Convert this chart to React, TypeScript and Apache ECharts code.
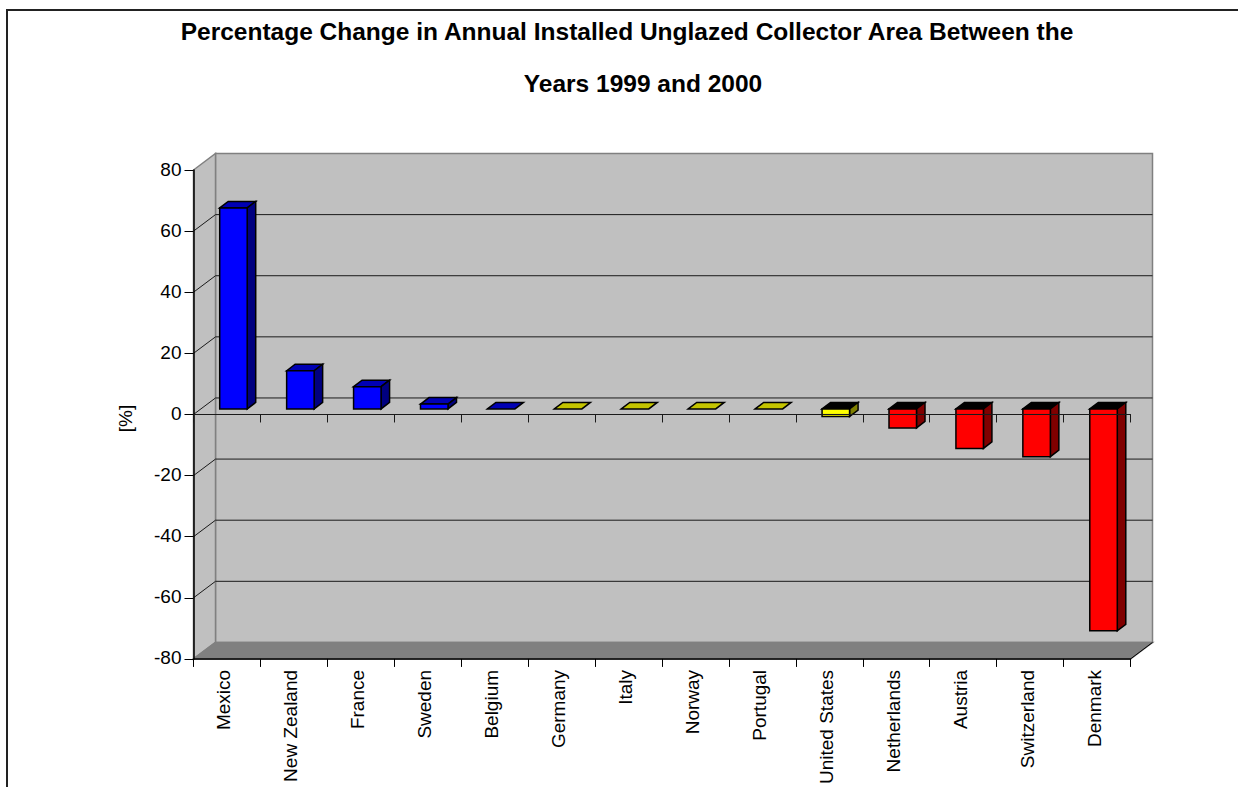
import React, { useEffect, useRef } from "react";
import * as echarts from "echarts";

const titleLine1 = "Percentage Change in Annual Installed Unglazed Collector Area Between the";
const titleLine2 = "Years 1999 and 2000";
const categories = ["Mexico", "New Zealand", "France", "Sweden", "Belgium", "Germany", "Italy", "Norway", "Portugal", "United States", "Netherlands", "Austria", "Switzerland", "Denmark"];
const changes = [65.8, 12.5, 7.3, 1.6, 0, 0, 0, 0, 0, -2.5, -6.2, -12.9, -15.6, -72.6];
const groups = ["gain", "gain", "gain", "gain", "gain", "flat", "flat", "flat", "flat", "flat", "loss", "loss", "loss", "loss"];
const gridValues = [-60, -40, -20, 0, 20, 40, 60];

const palette: Record<string, { front: string; side: string; top: string }> = {
  gain: { front: "#0000FF", side: "#000080", top: "#0000B4" },
  flat: { front: "#FFFF00", side: "#808000", top: "#C4C400" },
  loss: { front: "#FF0000", side: "#800000", top: "#000000" },
};

const FONT = "Liberation Sans";
const WALL_DX = 22, WALL_DY = 16.5;
const BAR_SHIFT_X = 7, BAR_SHIFT_Y = 5.5, BAR_DX = 8.5, BAR_DY = 6.5;

function renderWalls(params: any) {
  const c = params.coordSys;
  const l = c.x, r = c.x + c.width, t = c.y, b = c.y + c.height;
  const edge = { stroke: "#808080", lineWidth: 1.5 };
  return {
    type: "group",
    children: [
      { type: "polygon", shape: { points: [[l + WALL_DX, t - WALL_DY], [r + WALL_DX, t - WALL_DY], [r + WALL_DX, b - WALL_DY], [l + WALL_DX, b - WALL_DY]] }, style: { fill: "#C0C0C0", ...edge } },
      { type: "polygon", shape: { points: [[l, t], [l + WALL_DX, t - WALL_DY], [l + WALL_DX, b - WALL_DY], [l, b]] }, style: { fill: "#C0C0C0", ...edge } },
      { type: "polygon", shape: { points: [[l, b], [l + WALL_DX, b - WALL_DY], [r + WALL_DX, b - WALL_DY], [r, b]] }, style: { fill: "#808080", ...edge } },
      { type: "line", shape: { x1: r, y1: b, x2: r + WALL_DX, y2: b - WALL_DY }, style: { stroke: "#000", lineWidth: 1 } },
    ],
  };
}

function renderGrid(params: any, api: any) {
  const c = params.coordSys;
  const y = api.coord([0, api.value(0)])[1];
  return {
    type: "polyline",
    shape: { points: [[c.x, y], [c.x + WALL_DX, y - WALL_DY], [c.x + c.width + WALL_DX, y - WALL_DY]] },
    style: { fill: "none", stroke: "#1a1a1a", lineWidth: 1 },
  };
}

function renderBar(params: any, api: any) {
  const idx = api.value(0), v = api.value(1);
  const zeroPoint = api.coord([idx, 0]);
  const cx = zeroPoint[0] + BAR_SHIFT_X - 0.5;
  const y0 = zeroPoint[1] - BAR_SHIFT_Y;
  const yv = api.coord([idx, v])[1] - BAR_SHIFT_Y;
  const half = 13.75;
  const l = cx - half, r = cx + half;
  const top = Math.min(y0, yv), bottom = Math.max(y0, yv);
  const p = palette[groups[params.dataIndex]];
  const s = { stroke: "#000", lineWidth: 1.5, lineJoin: "miter" };
  const topFill = v < 0 ? "#000000" : p.top;
  const children: any[] = [
    { type: "polygon", shape: { points: [[l, top], [l + BAR_DX, top - BAR_DY], [r + BAR_DX, top - BAR_DY], [r, top]] }, style: { fill: topFill, ...s } },
  ];
  if (v !== 0) {
    children.push(
      { type: "polygon", shape: { points: [[r, top], [r + BAR_DX, top - BAR_DY], [r + BAR_DX, bottom - BAR_DY], [r, bottom]] }, style: { fill: p.side, ...s } },
      { type: "polygon", shape: { points: [[l, top], [r, top], [r, bottom], [l, bottom]] }, style: { fill: p.front, ...s } },
    );
  }
  if (v < 0) {
    children.push({ type: "line", shape: { x1: l, y1: zeroPoint[1], x2: r + BAR_DX, y2: zeroPoint[1] }, style: { stroke: "#1a1a1a", lineWidth: 1 } });
  }
  return { type: "group", children };
}

export default function App() {
  const ref = useRef<HTMLDivElement>(null);
  useEffect(() => {
    document.body.style.margin = "0";
    document.body.style.overflow = "hidden";
    const chart = echarts.init(ref.current!, undefined, { renderer: "svg" });
    const textBase = { fontFamily: FONT, color: "#000" };
    chart.setOption({
      animation: false,
      backgroundColor: "#fff",
      title: [
        { text: titleLine1, left: 622, top: 14, textAlign: "center", textStyle: { ...textBase, fontSize: 24.5, fontWeight: "bold" } },
        { text: titleLine2, left: 638, top: 66, textAlign: "center", textStyle: { ...textBase, fontSize: 24.5, fontWeight: "bold" } },
      ],
      graphic: [
        { type: "rect", silent: true, z: -1, shape: { x: 7, y: 10, width: 1400, height: 1000 }, style: { fill: "#fff", stroke: "#222", lineWidth: 2 } },
      ],
      grid: { left: 193.5, right: 107.5, top: 170, bottom: 126.5 },
      xAxis: [
        {
          type: "category", data: categories, position: "bottom", z: 6,
          axisLine: { onZero: false, lineStyle: { color: "#000", width: 1.5 } },
          axisTick: { show: true, length: 8, interval: 0, lineStyle: { color: "#000" } },
          axisLabel: {
            ...textBase, interval: 0, rotate: 90, fontSize: 19, margin: 11,
            formatter: (v: string) => `{a|${v}}`,
            rich: { a: { ...textBase, fontSize: 19, padding: [0, 0, 6, 0] } },
          },
        },
        {
          type: "category", data: categories, position: "bottom", z: 6,
          axisLine: { onZero: true, onZeroAxisIndex: 0, lineStyle: { color: "#1a1a1a", width: 1 } },
          axisTick: { show: true, length: 8, interval: 0, lineStyle: { color: "#1a1a1a" } },
          axisLabel: { show: false },
        },
      ],
      yAxis: {
        type: "value", min: -80, max: 80, interval: 20, z: 6,
        name: "[%]", nameLocation: "middle", nameGap: 59,
        nameTextStyle: { ...textBase, fontSize: 19, padding: [0, 8, 0, 0] },
        axisLine: { show: true, onZero: false, lineStyle: { color: "#000", width: 1.5 } },
        axisTick: { show: true, length: 9, lineStyle: { color: "#000" } },
        axisLabel: {
          ...textBase, fontSize: 19, margin: 12,
          formatter: (v: number) => `{a|${v}}`,
          rich: { a: { ...textBase, fontSize: 19, padding: [0, 0, 2, 0] } },
        },
        splitLine: { show: false },
      },
      series: [
        { type: "custom", z: 1, silent: true, clip: false, renderItem: renderWalls, data: [0], encode: { x: 0 } },
        { type: "custom", z: 2, silent: true, clip: false, renderItem: renderGrid, data: gridValues.map((v) => [v]), encode: { y: 0 } },
        { type: "custom", z: 3, silent: true, clip: false, renderItem: renderBar, data: changes.map((v, i) => [i, v]), encode: { x: 0, y: 1 } },
      ],
    });
    return () => chart.dispose();
  }, []);
  return <div ref={ref} style={{ position: "absolute", left: 0, top: 0, width: 1238, height: 787 }} />;
}
